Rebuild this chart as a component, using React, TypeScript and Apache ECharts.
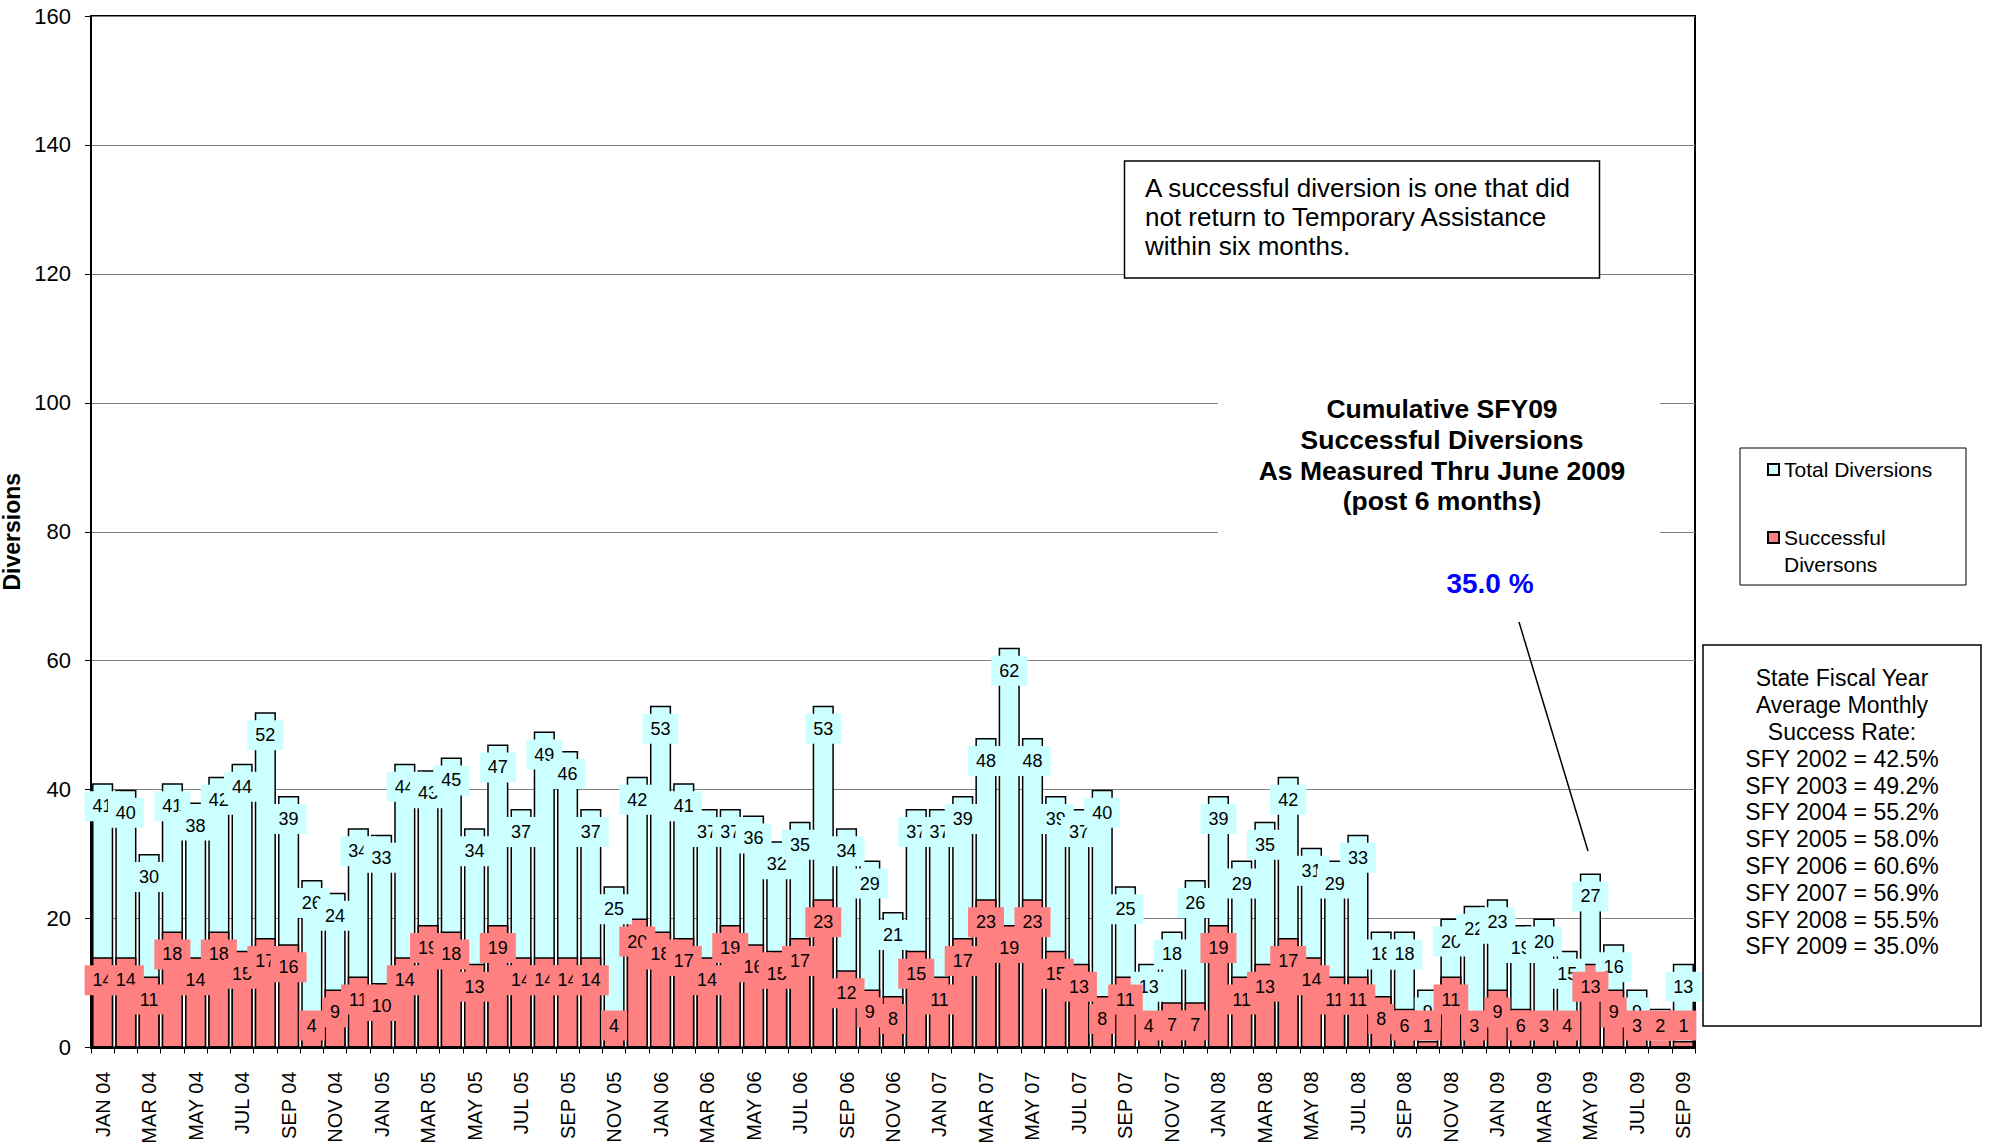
import React, { useEffect, useRef } from "react";
import * as echarts from "echarts";

const months = [
  "JAN 04", "FEB 04", "MAR 04", "APR 04", "MAY 04", "JUN 04", "JUL 04", "AUG 04", "SEP 04", "OCT 04", "NOV 04", "DEC 04",
  "JAN 05", "FEB 05", "MAR 05", "APR 05", "MAY 05", "JUN 05", "JUL 05", "AUG 05", "SEP 05", "OCT 05", "NOV 05", "DEC 05",
  "JAN 06", "FEB 06", "MAR 06", "APR 06", "MAY 06", "JUN 06", "JUL 06", "AUG 06", "SEP 06", "OCT 06", "NOV 06", "DEC 06",
  "JAN 07", "FEB 07", "MAR 07", "APR 07", "MAY 07", "JUN 07", "JUL 07", "AUG 07", "SEP 07", "OCT 07", "NOV 07", "DEC 07",
  "JAN 08", "FEB 08", "MAR 08", "APR 08", "MAY 08", "JUN 08", "JUL 08", "AUG 08", "SEP 08", "OCT 08", "NOV 08", "DEC 08",
  "JAN 09", "FEB 09", "MAR 09", "APR 09", "MAY 09", "JUN 09", "JUL 09", "AUG 09", "SEP 09",
];

const totalDiversions = [
  41, 40, 30, 41, 38, 42, 44, 52, 39, 26, 24, 34,
  33, 44, 43, 45, 34, 47, 37, 49, 46, 37, 25, 42,
  53, 41, 37, 37, 36, 32, 35, 53, 34, 29, 21, 37,
  37, 39, 48, 62, 48, 39, 37, 40, 25, 13, 18, 26,
  39, 29, 35, 42, 31, 29, 33, 18, 18, 9, 20, 22,
  23, 19, 20, 15, 27, 16, 9, 6, 13,
];

const successfulDiversions = [
  14, 14, 11, 18, 14, 18, 15, 17, 16, 4, 9, 11,
  10, 14, 19, 18, 13, 19, 14, 14, 14, 14, 4, 20,
  18, 17, 14, 19, 16, 15, 17, 23, 12, 9, 8, 15,
  11, 17, 23, 19, 23, 15, 13, 8, 11, 4, 7, 7,
  19, 11, 13, 17, 14, 11, 11, 8, 6, 1, 11, 3,
  9, 6, 3, 4, 13, 9, 3, 2, 1,
];

const yMin = 0;
const yMax = 160;
const yInterval = 20;

const seriesNames = ["Total Diversions", "Successful Diversons"];
const seriesColors = ["#CCFFFF", "#FF8080"];

const noteLines = [
  "A successful diversion is one that did",
  "not return to Temporary Assistance",
  "within six months.",
];
const cumulativeLines = [
  "Cumulative SFY09",
  "Successful Diversions",
  "As Measured Thru June 2009",
  "(post 6 months)",
];
const cumulativeRate = "35.0 %";
const sfyHeader = ["State Fiscal Year", "Average Monthly", "Success Rate:"];
const sfyYears = [2002, 2003, 2004, 2005, 2006, 2007, 2008, 2009];
const sfyRates = ["42.5", "49.2", "55.2", "58.0", "60.6", "56.9", "55.5", "35.0"];

const FONT = '"Liberation Sans", Arial, sans-serif';
const W = 1990;
const H = 1146;
const GRID_LEFT = 91;
const GRID_RIGHT = 295;
const GRID_TOP = 16;
const GRID_BOTTOM = 98.5;
const PLOT_BOTTOM = H - GRID_BOTTOM;

function labelLayout(params: any) {
  const r = params.labelRect;
  const limit = PLOT_BOTTOM - 7;
  const over = r.y + r.height - limit;
  return over > 0 ? { dy: -over } : {};
}

function makeSeries(idx: number, data: number[]) {
  return {
    type: "bar",
    name: seriesNames[idx],
    data,
    barGap: "-100%",
    barCategoryGap: "9%",
    itemStyle: { color: seriesColors[idx], borderColor: "#000", borderWidth: 1.5 },
    label: {
      show: true,
      position: "insideTop",
      distance: 8,
      backgroundColor: seriesColors[idx],
      padding: [6, 8],
      fontSize: 18,
      lineHeight: 18,
      fontFamily: FONT,
      color: "#000",
    },
    labelLayout,
  };
}

export default function App() {
  const ref = useRef<HTMLDivElement>(null);

  useEffect(() => {
    document.body.style.margin = "0";
    if (!ref.current) return;
    const chart = echarts.init(ref.current, undefined, { renderer: "svg" });

    const sfyLines = sfyYears.map((y, i) => `SFY ${y} = ${sfyRates[i]}%`);

    const option: any = {
      animation: false,
      backgroundColor: "#fff",
      textStyle: { fontFamily: FONT },
      grid: {
        left: GRID_LEFT,
        right: GRID_RIGHT,
        top: GRID_TOP,
        bottom: GRID_BOTTOM,
        show: true,
        borderColor: "#000",
        borderWidth: 2,
        backgroundColor: "#fff",
        containLabel: false,
        outerBoundsMode: "none",
      },
      legend: {
        orient: "vertical",
        left: 1767,
        top: 456,
        padding: 0,
        itemWidth: 11,
        itemHeight: 11,
        itemGap: 14,
        icon: "rect",
        selectedMode: false,
        data: [{ name: seriesNames[0] }, { name: seriesNames[1] }],
        // the leading blank line keeps the icon level with the first text line
        formatter: (n: string) => (n === seriesNames[1] ? "\n" + n.replace(" ", "\n") : n),
        textStyle: { fontSize: 21, lineHeight: 27, color: "#000", fontFamily: FONT },
      },
      xAxis: {
        type: "category",
        data: months,
        axisLine: { show: true, lineStyle: { color: "#000", width: 2 } },
        axisTick: { show: true, interval: 0, length: 6, lineStyle: { color: "#000" } },
        axisLabel: {
          interval: 1,
          rotate: 90,
          margin: 24,
          fontSize: 20,
          color: "#000",
          fontFamily: FONT,
        },
        splitLine: { show: false },
      },
      yAxis: {
        type: "value",
        min: yMin,
        max: yMax,
        interval: yInterval,
        name: "Diversions",
        nameLocation: "middle",
        nameGap: 60,
        nameTextStyle: { fontSize: 23, fontWeight: "bold", color: "#000", fontFamily: FONT },
        axisLine: { show: true, lineStyle: { color: "#000", width: 2 } },
        axisTick: { show: true, length: 6, lineStyle: { color: "#000" } },
        axisLabel: { fontSize: 22, color: "#000", margin: 20, fontFamily: FONT },
        splitLine: { show: true, lineStyle: { color: "#808080", width: 1 } },
      },
      series: [makeSeries(0, totalDiversions), makeSeries(1, successfulDiversions)],
      graphic: [
        {
          type: "rect",
          z: 10,
          shape: { x: 1124.5, y: 161, width: 475, height: 117 },
          style: { fill: "#fff", stroke: "#000", lineWidth: 1.5 },
        },
        {
          type: "text",
          z: 11,
          x: 1145,
          y: 173.5,
          style: {
            text: noteLines.join("\n"),
            font: `26px ${FONT}`,
            lineHeight: 29,
            fill: "#000",
            align: "left",
            verticalAlign: "top",
          },
        },
        {
          type: "rect",
          z: 10,
          shape: { x: 1218, y: 386, width: 442, height: 158 },
          style: { fill: "#fff", stroke: null },
        },
        {
          type: "text",
          z: 11,
          x: 1442,
          y: 394,
          style: {
            text: cumulativeLines.join("\n"),
            font: `bold 26.5px ${FONT}`,
            lineHeight: 30.7,
            fill: "#000",
            align: "center",
            verticalAlign: "top",
          },
        },
        {
          type: "text",
          z: 11,
          x: 1490,
          y: 583,
          style: {
            text: cumulativeRate,
            font: `bold 28px ${FONT}`,
            fill: "#0000FF",
            align: "center",
            verticalAlign: "middle",
          },
        },
        {
          type: "line",
          z: 11,
          shape: { x1: 1519, y1: 622, x2: 1588, y2: 851 },
          style: { stroke: "#000", lineWidth: 1.5 },
        },
        {
          type: "rect",
          z: 10,
          shape: { x: 1703, y: 645, width: 278, height: 381 },
          style: { fill: "#fff", stroke: "#000", lineWidth: 1.5 },
        },
        {
          type: "text",
          z: 11,
          x: 1842,
          y: 665,
          style: {
            text: [...sfyHeader, ...sfyLines].join("\n"),
            font: `23px ${FONT}`,
            lineHeight: 26.8,
            fill: "#000",
            align: "center",
            verticalAlign: "top",
          },
        },
        {
          type: "rect",
          z: 1,
          shape: { x: 1740, y: 448, width: 226, height: 137 },
          style: { fill: "rgba(0,0,0,0)", stroke: "#000", lineWidth: 1 },
        },
      ],
    };

    chart.setOption(option);
    return () => chart.dispose();
  }, []);

  return <div ref={ref} style={{ width: W, height: H }} />;
}
